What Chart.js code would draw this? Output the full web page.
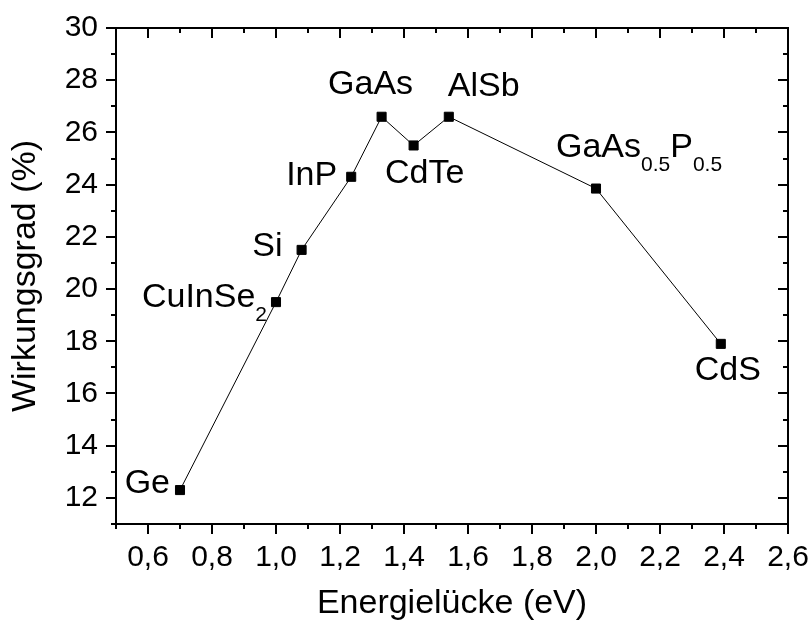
<!DOCTYPE html>
<html lang="de">
<head>
<meta charset="utf-8">
<title>Wirkungsgrad vs. Energielücke</title>
<script src="https://cdn.jsdelivr.net/npm/chart.js@4.4.1/dist/chart.umd.min.js"></script>
<style>
    html, body { margin: 0; padding: 0; background: #fff; }
    #wrap { width: 812px; height: 624px; }
</style>
</head>
<body>
<div id="wrap"><canvas id="effChart" width="812" height="624"></canvas></div>
<script>
// Halbleiter, Bandlücke (eV) und theoretischer Wirkungsgrad (%)
const materials = ['Ge', 'CuInSe_2', 'Si', 'InP', 'GaAs', 'CdTe', 'AlSb', 'GaAs_0.5P_0.5', 'CdS'];
const bandGap = [0.70, 1.00, 1.08, 1.235, 1.33, 1.43, 1.54, 2.00, 2.39];
const efficiency = [12.3, 19.5, 21.5, 24.3, 26.6, 25.5, 26.6, 23.85, 17.9];

const xTicks = [0.6, 0.8, 1.0, 1.2, 1.4, 1.6, 1.8, 2.0, 2.2, 2.4, 2.6];
const yTicks = [12, 14, 16, 18, 20, 22, 24, 26, 28, 30];

const FONT = "'Liberation Sans', Arial, sans-serif";

// Beschriftung neben den Punkten: Ausrichtung und Versatz in Pixeln
const labelPlacement = [
    { align: 'right', dx: -10, dy: 3 },
    { align: 'right', dx: -9, dy: 5 },
    { align: 'right', dx: -19, dy: 6 },
    { align: 'right', dx: -14, dy: 8 },
    { align: 'center', dx: -11, dy: -23 },
    { align: 'center', dx: 11, dy: 38 },
    { align: 'left', dx: -1, dy: -21 },
    { align: 'left', dx: -40, dy: -32 },
    { align: 'center', dx: 7, dy: 36 }
];

// "GaAs_0.5P_0.5" -> Teile mit Tiefstellung
function splitFormula(name) {
    const parts = [];
    const re = /_([0-9.]+)|([^_]+?)(?=_|$)/g;
    let m;
    while ((m = re.exec(name)) !== null) {
        if (m[1]) parts.push({ text: m[1], sub: true });
        else parts.push({ text: m[2], sub: false });
    }
    return parts;
}

// Rahmen mit Haupt- und Nebenstrichen (links/unten nach außen, oben/rechts nach innen)
const framePlugin = {
    id: 'frame',
    afterDraw(chart) {
        const { ctx, chartArea: a } = chart;
        const xs = chart.scales.x, ys = chart.scales.y;
        const major = 10, minor = 5;
        const xMinor = [xTicks[0] - (xTicks[1] - xTicks[0]) / 2];
        for (let i = 0; i < xTicks.length - 1; i++) xMinor.push((xTicks[i] + xTicks[i + 1]) / 2);
        const yMinor = [yTicks[0] - (yTicks[1] - yTicks[0]) / 2];
        for (let i = 0; i < yTicks.length - 1; i++) yMinor.push((yTicks[i] + yTicks[i + 1]) / 2);

        ctx.save();
        ctx.strokeStyle = '#000';
        ctx.lineWidth = 2;
        ctx.beginPath();
        ctx.rect(a.left, a.top, a.right - a.left, a.bottom - a.top);

        const xMark = (v, len) => {
            const px = Math.round(xs.getPixelForValue(v));
            ctx.moveTo(px, a.bottom); ctx.lineTo(px, a.bottom + len);
            ctx.moveTo(px, a.top); ctx.lineTo(px, a.top + len);
        };
        const yMark = (v, len) => {
            const py = Math.round(ys.getPixelForValue(v));
            ctx.moveTo(a.left, py); ctx.lineTo(a.left - len, py);
            ctx.moveTo(a.right, py); ctx.lineTo(a.right - len, py);
        };
        xTicks.forEach(v => xMark(v, major));
        xMinor.forEach(v => xMark(v, minor));
        yTicks.forEach(v => yMark(v, major));
        yMinor.forEach(v => yMark(v, minor));
        ctx.stroke();
        ctx.restore();
    }
};

// Materialnamen an den Datenpunkten
const labelPlugin = {
    id: 'materialLabels',
    afterDatasetsDraw(chart) {
        const { ctx } = chart;
        const meta = chart.getDatasetMeta(0);
        const mainFont = '34px ' + FONT;
        const subFont = '21px ' + FONT;
        ctx.save();
        ctx.fillStyle = '#000';
        ctx.textBaseline = 'alphabetic';
        ctx.textAlign = 'left';
        meta.data.forEach((pt, i) => {
            const place = labelPlacement[i];
            const parts = splitFormula(materials[i]);
            let width = 0;
            parts.forEach(p => {
                ctx.font = p.sub ? subFont : mainFont;
                p.w = ctx.measureText(p.text).width;
                width += p.w;
            });
            let x = pt.x + place.dx;
            if (place.align === 'right') x -= width;
            else if (place.align === 'center') x -= width / 2;
            const y = pt.y + place.dy;
            parts.forEach(p => {
                ctx.font = p.sub ? subFont : mainFont;
                ctx.fillText(p.text, x, p.sub ? y + 14 : y);
                x += p.w;
            });
        });
        ctx.restore();
    }
};

const points = bandGap.map((x, i) => ({ x: x, y: efficiency[i] }));

new Chart(document.getElementById('effChart'), {
    type: 'scatter',
    data: {
        datasets: [{
            data: points,
            showLine: true,
            borderColor: '#000',
            borderWidth: 1,
            backgroundColor: '#000',
            pointStyle: 'rect',
            pointRadius: 6.4,
            pointBorderWidth: 1,
            pointHoverRadius: 6.4
        }]
    },
    options: {
        responsive: false,
        animation: false,
        layout: { padding: { left: 0, right: 24, top: 28, bottom: 0 } },
        plugins: {
            legend: { display: false },
            tooltip: { enabled: false }
        },
        scales: {
            x: {
                type: 'linear',
                min: 0.5,
                max: 2.6,
                afterFit: function (scale) {
                    scale.height = 100;
                    scale.paddingLeft = 0;
                    scale.paddingRight = 0;
                },
                afterBuildTicks: function (scale) {
                    scale.ticks = xTicks.map(v => ({ value: v }));
                },
                grid: { display: false, drawTicks: false },
                border: { display: false },
                ticks: {
                    autoSkip: false,
                    maxRotation: 0,
                    padding: 16,
                    color: '#000',
                    font: { size: 30, family: FONT },
                    callback: function (value) {
                        return value.toFixed(1).replace('.', ',');
                    }
                },
                title: {
                    display: true,
                    text: 'Energielücke (eV)',
                    color: '#000',
                    font: { size: 34, family: FONT },
                    padding: { top: 0, bottom: 0 }
                }
            },
            y: {
                type: 'linear',
                min: 11,
                max: 30,
                afterFit: function (scale) {
                    scale.width = 116;
                    scale.paddingTop = 0;
                    scale.paddingBottom = 0;
                },
                afterBuildTicks: function (scale) {
                    scale.ticks = yTicks.map(v => ({ value: v }));
                },
                grid: { display: false, drawTicks: false },
                border: { display: false },
                ticks: {
                    autoSkip: false,
                    padding: 18,
                    color: '#000',
                    font: { size: 30, family: FONT },
                    callback: function (value) { return value; }
                },
                title: {
                    display: true,
                    text: 'Wirkungsgrad (%)',
                    color: '#000',
                    font: { size: 34, family: FONT },
                    padding: { top: 5, bottom: 0 }
                }
            }
        }
    },
    plugins: [framePlugin, labelPlugin]
});
</script>
</body>
</html>
